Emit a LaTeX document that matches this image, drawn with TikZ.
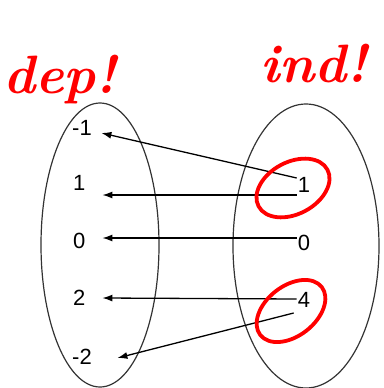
\documentclass[tikz,border=0pt]{standalone}
\usepackage{fontspec}
\setsansfont{Liberation Sans}
\usetikzlibrary{arrows.meta}
\tikzset{
  num/.style  = {font=\sffamily\fontsize{22}{22}\selectfont, inner sep=1pt},
  lnum/.style = {num, anchor=west, text width=26pt, align=left},
  set/.style  = {draw=black!80, line width=1.2pt},
  map/.style  = {draw, line width=1.3pt, -{Latex[length=10pt,width=7pt]}},
  pen/.style  = {draw=red, line width=3.8pt, line cap=round},
  note/.style = {text=red, inner sep=0pt, font=\itshape\bfseries\fontsize{54}{54}\selectfont}
}

\begin{document}
\begin{tikzpicture}[x=1pt,y=-1pt]
\useasboundingbox (0,0) rectangle (383,388);
% the two sets
\draw[set] (100,245) ellipse (59 and 142);
\draw[set] (306,246) ellipse (73 and 142);
% left set
\node[lnum] (lm1) at (71,128) {-1};
\node[lnum] (l1)  at (72,183) {1};
\node[lnum] (l0)  at (72,241) {0};
\node[lnum] (l2)  at (72,298) {2};
\node[lnum] (lm2) at (71,357) {-2};
% right set
\node[num] (r1) at (304,185) {1};
\node[num] (r0) at (304,243) {0};
\node[num] (r4) at (304,300) {4};
% the mapping
\draw[map] ([yshift=7pt]r1.west) -- ([xshift=2pt,yshift=-5pt]lm1.east);
\draw[map] ([yshift=-10pt]r1.west) -- ([xshift=2pt,yshift=-12pt]l1.east);
\draw[map] ([yshift=5pt]r0.west) -- ([xshift=2pt,yshift=3pt]l0.east);
\draw[map] ([yshift=1pt]r4.west) -- ([xshift=2pt]l2.east);
\draw[map] ([xshift=-3pt,yshift=-13pt]r4.west) -- ([xshift=18pt,yshift=-1pt]lm2.east);
% red marks
\draw[pen, rotate around={28:(293,188)}] (293,188) ellipse (39 and 26);
\draw[pen, rotate around={38:(291,311)}] (291,311) ellipse (39 and 25);
\node[note] (dep) at (60,80) {dep!};
\node[note] (ind) at (314,64) {ind!};
\end{tikzpicture}
\end{document}
